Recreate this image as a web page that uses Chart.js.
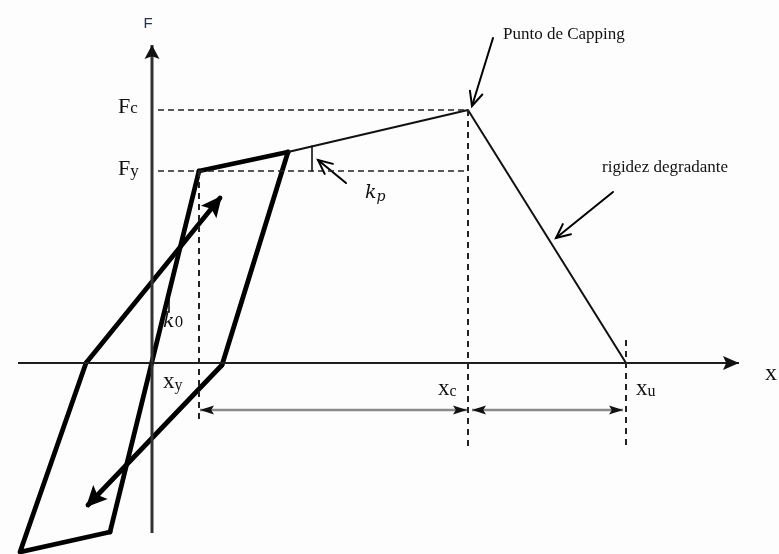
<!DOCTYPE html>
<html lang="es">
<head>
<meta charset="utf-8">
<title>Modelo histerético con punto de capping</title>
<script src="https://cdn.jsdelivr.net/npm/chart.js@4.4.1/dist/chart.umd.min.js"></script>
<style>
  html, body { margin: 0; padding: 0; background: #fdfdfd; }
  #grafico { display: block; }
</style>
</head>
<body>
<canvas id="grafico" width="779" height="554"></canvas>
<script>
// Valores característicos (desplazamiento x, fuerza F)
const xy = 4.7;
const xc = 31.6;
const xu = 47.4;
const Fy = 19.2;
const Fc = 25.3;

// Ciclos de histéresis (trazo grueso)
const tramoElastico = [[xy, Fy], [-4.2, -16.9]];
const tramoEndurecimiento = [[xy, Fy], [13.6, 21.1]];
const descargaSuperior = [[13.6, 21.1], [7.0, -0.2]];
const flechaDescarga = [[7.0, -0.2], [-6.4, -14.2]];
const cicloInferior = [[-4.2, -16.9], [-13.2, -18.9], [-6.6, 0]];
const flechaRecarga = [[-6.6, 0], [6.8, 16.5]];

// Envolvente: endurecimiento, capping y rigidez degradante
const envolvente = [[13.6, 21.1], [xc, Fc], [xu, 0]];

// Ejes
const ejeF = [[0, -17], [0, 31.8]];
const ejeX = [[-13.4, 0], [58.7, 0]];

// Líneas de referencia y cotas
const lineaFc = [[0.6, Fc], [xc, Fc]];
const lineaFy = [[0.6, Fy], [xc, Fy]];
const verticalXy = [[xy, Fy], [xy, -5.9]];
const verticalXc = [[xc, Fc], [xc, -8.3]];
const verticalXu = [[xu, 2.3], [xu, -8.4]];
const cotaPlastica = [[4.8, -4.7], [31.5, -4.7]];
const cotaDegradante = [[32.0, -4.7], [47.1, -4.7]];

// Marcas de pendiente y flechas de anotación
const pendienteK0 = [[1.3, 5.1], [1.7, 5.1], [1.7, 7.3]];
const pendienteKp = [[16.0, 21.7], [16.0, 19.2]];
const flechaKp = [[19.4, 18.0], [16.6, 20.3]];
const flechaCapping = [[34.1, 32.5], [32.0, 25.7]];
const flechaRigidez = [[46.1, 17.1], [40.4, 12.5]];

function serie(puntos, estilo) {
  return Object.assign({
    data: puntos.map(([x, y]) => ({ x, y })),
    showLine: true,
    pointRadius: 0,
    pointHoverRadius: 0,
    fill: false,
    tension: 0,
    clip: false,
    borderColor: "#000",
    borderWidth: 2,
    borderCapStyle: "round",
    borderJoinStyle: "round"
  }, estilo);
}

const grueso = { borderWidth: 4.8 };
const discontinua = { borderWidth: 1.6, borderColor: "#222", borderDash: [6, 4], borderCapStyle: "butt" };
const discontinuaVertical = { borderWidth: 2, borderColor: "#222", borderDash: [6, 5], borderCapStyle: "butt" };
const puntaLlena = { largo: 21, ancho: 10, color: "#000", avance: 3 };
const puntaCota = { largo: 14, ancho: 4.5, color: "#111", avance: 0 };
const puntaAbierta = { largo: 14, ancho: 6.5, color: "#000", abierta: true, grosor: 2, avance: 0 };

const datasets = [
  serie(lineaFc, discontinua),
  serie(lineaFy, discontinua),
  serie(verticalXy, discontinuaVertical),
  serie(verticalXc, discontinuaVertical),
  serie(verticalXu, discontinuaVertical),
  serie(cotaPlastica, { borderColor: "#8a8a8a", borderWidth: 2.5, borderCapStyle: "butt", punta: { inicio: puntaCota, fin: puntaCota } }),
  serie(cotaDegradante, { borderColor: "#8a8a8a", borderWidth: 2.5, borderCapStyle: "butt", punta: { inicio: puntaCota, fin: puntaCota } }),
  serie(ejeX, { borderColor: "#1e1e1e", borderWidth: 2, borderCapStyle: "butt", punta: { fin: { largo: 16, ancho: 7, color: "#111", avance: 0 } } }),
  serie(ejeF, { borderColor: "#333", borderWidth: 3, borderCapStyle: "butt", punta: { fin: { largo: 14, ancho: 7.5, color: "#111", avance: 0 } } }),
  serie(envolvente, { borderColor: "#111", borderWidth: 2 }),
  serie(tramoElastico, grueso),
  serie(tramoEndurecimiento, grueso),
  serie(descargaSuperior, grueso),
  serie(flechaDescarga, Object.assign({ punta: { fin: puntaLlena } }, grueso)),
  serie(cicloInferior, grueso),
  serie(flechaRecarga, Object.assign({ punta: { fin: puntaLlena } }, grueso)),
  serie(pendienteK0, { borderWidth: 1.5, borderCapStyle: "butt", borderJoinStyle: "miter" }),
  serie(pendienteKp, { borderWidth: 1.5, borderCapStyle: "butt" }),
  serie(flechaKp, { borderWidth: 2, punta: { fin: puntaAbierta } }),
  serie(flechaCapping, { borderWidth: 2, punta: { fin: puntaAbierta } }),
  serie(flechaRigidez, { borderWidth: 2, punta: { fin: puntaAbierta } })
];

// Dibuja una punta de flecha en "hasta", orientada desde "desde".
function dibujarPunta(ctx, desde, hasta, p) {
  const ang = Math.atan2(hasta.y - desde.y, hasta.x - desde.x);
  ctx.save();
  ctx.translate(hasta.x + Math.cos(ang) * p.avance, hasta.y + Math.sin(ang) * p.avance);
  ctx.rotate(ang);
  ctx.beginPath();
  if (p.abierta) {
    ctx.moveTo(-p.largo, -p.ancho);
    ctx.lineTo(0, 0);
    ctx.lineTo(-p.largo, p.ancho);
    ctx.lineWidth = p.grosor;
    ctx.lineCap = "round";
    ctx.lineJoin = "miter";
    ctx.strokeStyle = p.color;
    ctx.stroke();
  } else {
    ctx.moveTo(0, 0);
    ctx.lineTo(-p.largo, -p.ancho);
    ctx.lineTo(-p.largo * 0.8, 0);
    ctx.lineTo(-p.largo, p.ancho);
    ctx.closePath();
    ctx.fillStyle = p.color;
    ctx.fill();
  }
  ctx.restore();
}

const puntasFlecha = {
  id: "puntasFlecha",
  afterDatasetsDraw(chart) {
    const ctx = chart.ctx;
    chart.data.datasets.forEach((ds, i) => {
      if (!ds.punta) {
        return;
      }
      const pts = chart.getDatasetMeta(i).data;
      if (ds.punta.fin) {
        dibujarPunta(ctx, pts[pts.length - 2], pts[pts.length - 1], ds.punta.fin);
      }
      if (ds.punta.inicio) {
        dibujarPunta(ctx, pts[1], pts[0], ds.punta.inicio);
      }
    });
  }
};

// Rótulos: [texto, subíndice, x, y, fuente, fuente del subíndice, desplazamiento del subíndice]
const serif = '"Liberation Serif", "Times New Roman", serif';
const serifMat = '"DejaVu Serif", "Cambria Math", serif';
const rotulos = [
  ["F", "c", -3.4, 25.0, "22px " + serif, "17px " + serif, 0],
  ["F", "y", -3.4, 18.8, "22px " + serif, "17px " + serif, 1],
  ["x", "y", 1.1, -2.5, "23px " + serif, "16px " + serif, 2],
  ["x", "c", 28.6, -3.2, "23px " + serif, "16px " + serif, 1],
  ["x", "u", 48.4, -3.2, "23px " + serif, "16px " + serif, 1],
  ["x", "", 61.3, -1.7, "24px " + serif, "", 0],
  ["k", "0", 1.1, 3.6, "italic 19px " + serifMat, "14px " + serifMat, 0],
  ["k", "p", 21.3, 16.5, "italic 19px " + serifMat, "italic 14px " + serifMat, 3]
];
const notas = [
  ["Punto de Capping", 35.1, 32.4],
  ["rigidez degradante", 45.0, 19.1]
];

const rotulosPlugin = {
  id: "rotulos",
  afterDraw(chart) {
    const ctx = chart.ctx;
    const sx = chart.scales.x;
    const sy = chart.scales.y;
    ctx.save();
    ctx.textBaseline = "alphabetic";
    ctx.textAlign = "left";
    ctx.fillStyle = "#111";
    rotulos.forEach(([txt, sub, x, y, fuente, fuenteSub, dy]) => {
      const px = sx.getPixelForValue(x);
      const py = sy.getPixelForValue(y);
      ctx.font = fuente;
      ctx.fillText(txt, px, py);
      if (sub) {
        const w = ctx.measureText(txt).width;
        ctx.font = fuenteSub;
        ctx.fillText(sub, px + w, py + dy);
      }
    });
    ctx.font = "17px " + serif;
    notas.forEach(([txt, x, y]) => {
      ctx.fillText(txt, sx.getPixelForValue(x), sy.getPixelForValue(y));
    });
    // Nombre del eje de fuerzas
    ctx.font = '15px "Liberation Sans", Arial, sans-serif';
    ctx.fillStyle = "#26324a";
    ctx.textAlign = "center";
    ctx.fillText("F", sx.getPixelForValue(-0.4), sy.getPixelForValue(33.5));
    ctx.restore();
  }
};

const fondo = {
  id: "fondo",
  beforeDraw(chart) {
    const ctx = chart.ctx;
    ctx.save();
    ctx.fillStyle = "#fdfdfd";
    ctx.fillRect(0, 0, chart.width, chart.height);
    ctx.restore();
  }
};

new Chart(document.getElementById("grafico").getContext("2d"), {
  type: "scatter",
  data: { datasets },
  options: {
    responsive: false,
    animation: false,
    devicePixelRatio: 1,
    layout: { padding: 0 },
    events: [],
    plugins: {
      legend: { display: false },
      tooltip: { enabled: false }
    },
    scales: {
      x: { type: "linear", min: -15.2, max: 62.7, display: false },
      y: { type: "linear", min: -19.1, max: 36.3, display: false }
    }
  },
  plugins: [fondo, puntasFlecha, rotulosPlugin]
});
</script>
</body>
</html>
